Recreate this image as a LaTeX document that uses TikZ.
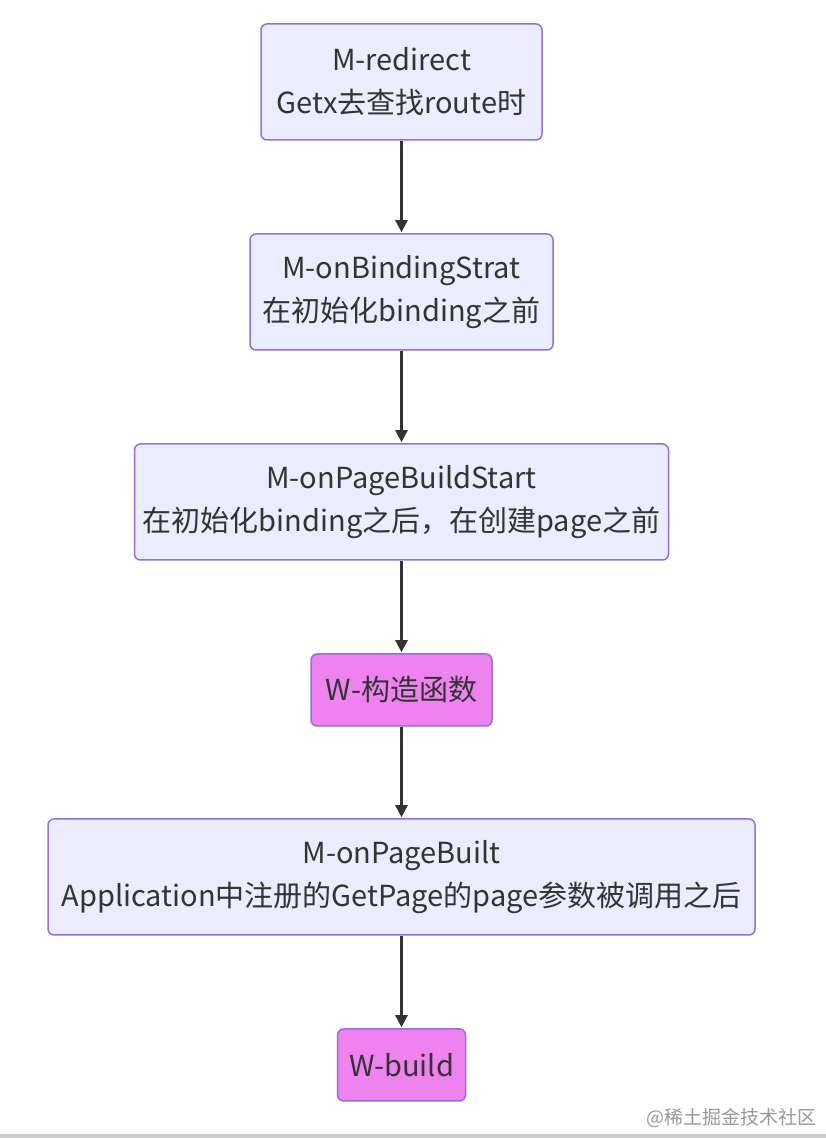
\documentclass[tikz,border=0pt]{standalone}
\usepackage{fontspec}
\setmainfont{Noto Sans CJK SC}
\usetikzlibrary{arrows.meta}
\definecolor{boxfill}{HTML}{ECECFF}
\definecolor{boxline}{HTML}{9370DB}
\definecolor{pinkfill}{HTML}{EE82EE}
\definecolor{arrowc}{HTML}{333333}
\tikzset{
  box/.style={draw=boxline, fill=boxfill, line width=1.5pt, rounded corners=6pt, align=center,
    font=\fontsize{29}{43}\selectfont, text=arrowc, inner sep=0pt},
  wbox/.style={box, fill=pinkfill},
  flow/.style={draw=arrowc, line width=2.5pt, -{Triangle[length=12pt,width=12pt]}, shorten >=1pt}
}
\begin{document}
\begin{tikzpicture}[x=1pt,y=1pt]
\useasboundingbox (0,0) rectangle (826,1138);
\fill[white] (0,0) rectangle (826,1138);
\fill[black!20] (0,0) rectangle (826,4);
\node[box, minimum width=281pt, minimum height=116pt] (a) at (401.5,1056) {M-redirect\\Getx去查找route时};
\node[box, minimum width=303pt, minimum height=116pt] (b) at (401.5,846) {M-onBindingStrat\\在初始化binding之前};
\node[box, minimum width=534pt, minimum height=116pt] (c) at (401.5,636) {M-onPageBuildStart\\在初始化binding之后，在创建page之前};
\node[wbox, minimum width=181pt, minimum height=72pt] (d) at (401.5,448) {W-构造函数};
\node[box, minimum width=707pt, minimum height=116pt] (e) at (401.5,261) {M-onPageBuilt\\Application中注册的GetPage的page参数被调用之后};
\node[wbox, minimum width=128pt, minimum height=72pt] (f) at (401.5,73) {W-build};
\draw[flow] (a) -- (b);
\draw[flow] (b) -- (c);
\draw[flow] (c) -- (d);
\draw[flow] (d) -- (e);
\draw[flow] (e) -- (f);
\node[text=black!40, font=\fontsize{19}{19}\selectfont, anchor=east] (wm) at (820,20) {@稀土掘金技术社区};
\end{tikzpicture}
\end{document}
